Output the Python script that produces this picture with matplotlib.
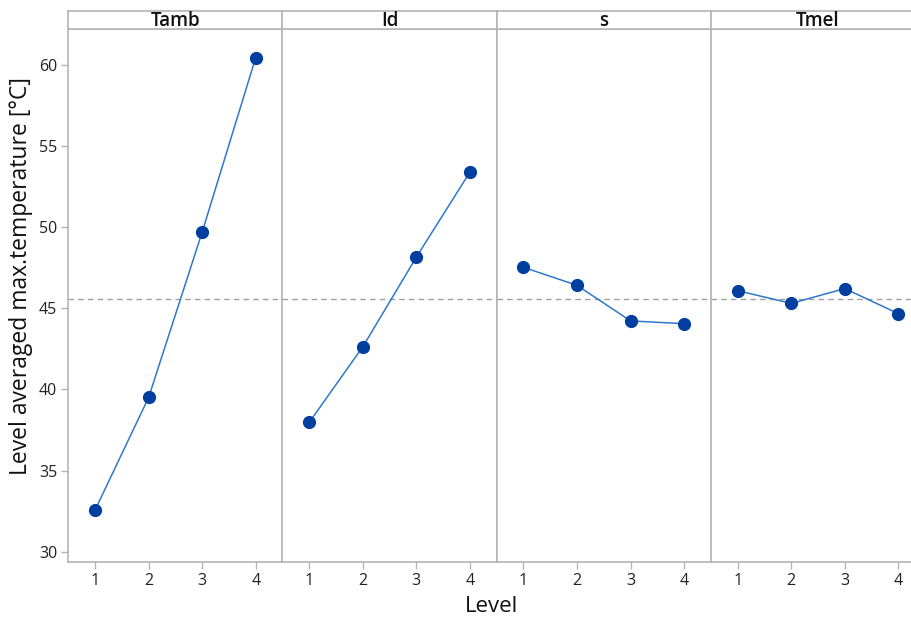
import matplotlib.pyplot as plt
import numpy as np

plt.rcParams["font.family"] = ["Open Sans", "DejaVu Sans"]

factors = ["Tamb", "Id", "s", "Tmel"]
levels = [1, 2, 3, 4]
tamb = [32.58, 39.51, 49.69, 60.43]
i_d = [37.98, 42.63, 48.15, 53.38]
s_vals = [47.52, 46.41, 44.22, 44.05]
tmel = [46.08, 45.30, 46.21, 44.67]
series = [tamb, i_d, s_vals, tmel]
y_ticks = [30, 35, 40, 45, 50, 55, 60]

grand_mean = np.mean(np.concatenate(series))

W, H = 912, 618
fig = plt.figure(figsize=(W / 100, H / 100), dpi=100)

frame = "#b4b4b4"
line_col = "#2f78cc"
dot_col = "#003f9f"

x0, pw = 68.3, 214.2
top, strip_bot, bottom = 10.7, 29.3, 561.7

for i, (name, vals) in enumerate(zip(factors, series)):
    left = x0 + i * pw
    ax = fig.add_axes([left / W, 1 - bottom / H, pw / W, (bottom - strip_bot) / H])
    ax.plot(levels, vals, color=line_col, lw=1.1, zorder=2)
    ax.plot(levels, vals, "o", color=dot_col, ms=8.5, zorder=3)
    ax.axhline(grand_mean, color="#a0a0a0", ls=(0, (4, 3)), lw=1.0, zorder=1)
    ax.set_xlim(0.5, 4.5)
    ax.set_ylim(29.4, 62.17)
    ax.set_xticks(levels)
    ax.set_yticks(y_ticks)
    ax.tick_params(colors=frame, labelcolor="#222222", labelsize=11.5, length=5,
                   width=1, pad=3)
    if i > 0:
        ax.tick_params(axis="y", left=False, labelleft=False)
    for sp in ax.spines.values():
        sp.set_color(frame)
        sp.set_linewidth(1.2)

    sax = fig.add_axes([left / W, 1 - strip_bot / H, pw / W, (strip_bot - top) / H])
    sax.set_xticks([])
    sax.set_yticks([])
    for sp in sax.spines.values():
        sp.set_color(frame)
        sp.set_linewidth(1.2)
    sax.text(0.5, 0.42, name, ha="center", va="center", fontsize=13.5,
             fontweight="semibold", color="#111111", transform=sax.transAxes)

fig.text(21 / W, 1 - 276 / H, "Level averaged max.temperature [°C]", rotation=90,
         ha="center", va="center", fontsize=16.5, color="#111111")
fig.text(492 / W, 1 - 606 / H, "Level", ha="center", va="center", fontsize=16,
         color="#111111")

fig.savefig("out.png", dpi=100)
